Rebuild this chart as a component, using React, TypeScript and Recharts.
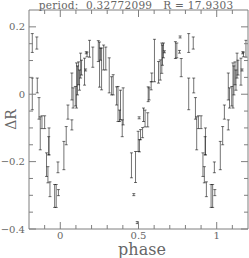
import React from "react";
import { ScatterChart, Scatter, XAxis, YAxis, ErrorBar } from "recharts";

// folded light curve (phase in [0,1), wrapped copies added below)
const phase = [
  0.023, 0.038, 0.049, 0.074, 0.074, 0.082, 0.096, 0.104, 0.11, 0.117, 0.123, 0.13,
  0.136, 0.155, 0.162, 0.166, 0.171, 0.187, 0.208, 0.243, 0.251, 0.257, 0.264, 0.277,
  0.291, 0.313, 0.328, 0.338, 0.36, 0.369, 0.379, 0.385, 0.396, 0.402, 0.455, 0.47,
  0.481, 0.492, 0.498, 0.504, 0.506, 0.513, 0.526, 0.532, 0.542, 0.559, 0.562, 0.568,
  0.581, 0.585, 0.602, 0.628, 0.639, 0.649, 0.653, 0.66, 0.666, 0.736, 0.745, 0.762,
  0.766, 0.773, 0.821, 0.821, 0.85, 0.853, 0.864, 0.872, 0.883, 0.9, 0.912, 0.921,
  0.926, 0.928, 0.934, 0.964, 0.974, 0.985, 0.988,
];
const deltaR = [
  -0.182, -0.123, -0.053, -0.091, 0.023, -0.011, -0.006, 0.026, 0.041, 0.062, 0.042, 0.085,
  0.079, 0.067, 0.072, 0.123, 0.118, 0.135, 0.11, 0.128, 0.088, 0.119, 0.075, 0.109,
  0.106, 0.056, 0.025, 0.028, -0.005, -0.029, -0.064, -0.032, -0.101, -0.036, -0.211, -0.298,
  -0.216, -0.381, -0.14, -0.07, -0.153, -0.12, -0.114, -0.061, -0.072, -0.076, 0.0, 0.001,
  0.025, 0.05, 0.1, 0.065, 0.072, 0.107, 0.116, 0.13, 0.126, 0.131, 0.13, 0.126,
  0.17, 0.079, 0.152, 0.001, 0.152, 0.026, -0.042, -0.116, -0.083, -0.083, -0.209, -0.239,
  -0.153, -0.14, -0.282, -0.302, -0.302, -0.217, -0.292,
];
const sigma = [
  0.042, 0.027, 0.021, 0.015, 0.04, 0.03, 0.029, 0.067, 0.043, 0.034, 0.03, 0.037,
  0.022, 0.04, 0.003, 0.003, 0.007, 0.025, 0.03, 0.031, 0.067, 0.018, 0.062, 0.037,
  0.034, 0.052, 0.027, 0.03, 0.027, 0.052, 0.017, 0.044, 0.025, 0.055, 0.037, 0.003,
  0.046, 0.003, 0.03, 0.003, 0.018, 0.015, 0.015, 0.02, 0.025, 0.021, 0.022, 0.018,
  0.012, 0.013, 0.063, 0.032, 0.03, 0.045, 0.03, 0.022, 0.003, 0.025, 0.022, 0.004,
  0.003, 0.027, 0.028, 0.047, 0.018, 0.022, 0.032, 0.049, 0.019, 0.019, 0.035, 0.024,
  0.027, 0.04, 0.022, 0.034, 0.034, 0.016, 0.009,
];

const xTicks = [-0.1, 0, 0.1, 0.2, 0.3, 0.4, 0.5, 0.6, 0.7, 0.8, 0.9, 1, 1.1];
const xLabelled = [0, 0.5, 1];
const yTicks = [-0.4, -0.35, -0.3, -0.25, -0.2, -0.15, -0.1, -0.05, 0, 0.05, 0.1, 0.15, 0.2];
const yLabelled = [-0.4, -0.2, 0, 0.2];

const title = "period:\u00a0\u00a00.32772099\u00a0\u00a0\u00a0R = 17.9303";

const AXIS = "#7f7f7f";
const TEXT = "#666";
const FONT = "'DejaVu Serif', serif";

// points outside [0,1) are plotted again one cycle over, as in the original
const points: { phase: number; dR: number; err: number }[] = [];
phase.forEach((p, i) => {
  const row = { dR: deltaR[i], err: sigma[i] };
  points.push({ phase: p, ...row });
  if (p < 0.2) points.push({ phase: p + 1, ...row });
  if (p >= 0.8) points.push({ phase: p - 1, ...row });
});

const isIn = (v: number, list: number[]) => list.some((t) => Math.abs(t - v) < 1e-6);
const fmt = (v: number) => (v < 0 ? `\u2212${Math.abs(v)}` : `${v}`);

const BottomTick = ({ x, y, payload }: any) => {
  const major = isIn(payload.value, xLabelled);
  return (
    <g>
      <line x1={x} x2={x} y1={y} y2={y - (major ? 7 : 4)} stroke={AXIS} />
      {major && (
        <text x={x} y={y + 10} textAnchor="middle" fontSize={10} fill={TEXT} fontFamily={FONT}>
          {fmt(payload.value)}
        </text>
      )}
    </g>
  );
};

const TopTick = ({ x, y, payload }: any) => (
  <line x1={x} x2={x} y1={y} y2={y + (isIn(payload.value, xLabelled) ? 7 : 4)} stroke={AXIS} />
);

const LeftTick = ({ x, y, payload }: any) => {
  const major = isIn(payload.value, yLabelled);
  return (
    <g>
      <line x1={x} x2={x + (major ? 7 : 4)} y1={y} y2={y} stroke={AXIS} />
      {major && (
        <text x={x - 4} y={y} dy="0.35em" textAnchor="end" fontSize={10} fill={TEXT} fontFamily={FONT}>
          {fmt(payload.value)}
        </text>
      )}
    </g>
  );
};

const RightTick = ({ x, y, payload }: any) => (
  <line x1={x} x2={x - (isIn(payload.value, yLabelled) ? 7 : 4)} y1={y} y2={y} stroke={AXIS} />
);

const Nothing = () => <g />;

const App = () => (
  <div style={{ position: "absolute", left: 0, top: 0, width: 249, height: 258, background: "#fff" }}>
    <ScatterChart width={249} height={258} margin={{ top: 9, right: 0, bottom: 0, left: 0 }}>
      <XAxis
        dataKey="phase"
        type="number"
        domain={[-0.2, 1.2]}
        allowDataOverflow
        ticks={xTicks}
        interval={0}
        height={29}
        tickSize={0}
        tickMargin={0}
        tickLine={false}
        axisLine={{ stroke: AXIS }}
        tick={<BottomTick />}
        label={{ value: "phase", position: "insideBottom", offset: 3, dx: 3.5, fontSize: 16, fill: TEXT, fontFamily: FONT }}
      />
      <XAxis
        xAxisId="top"
        dataKey="phase"
        orientation="top"
        type="number"
        domain={[-0.2, 1.2]}
        allowDataOverflow
        ticks={xTicks}
        interval={0}
        height={1}
        tickSize={0}
        tickMargin={0}
        tickLine={false}
        axisLine={{ stroke: AXIS }}
        tick={<TopTick />}
        label={{
          value: title,
          position: "top",
          offset: 0.5,
          dx: -2.5,
          fontSize: 10.5,
          letterSpacing: 0.3,
          fill: TEXT,
          fontFamily: FONT,
        }}
      />
      <YAxis
        dataKey="dR"
        type="number"
        domain={[-0.4, 0.25]}
        allowDataOverflow
        ticks={yTicks}
        interval={0}
        width={29}
        tickSize={0}
        tickMargin={0}
        tickLine={false}
        axisLine={{ stroke: AXIS }}
        tick={<LeftTick />}
        label={{ value: "\u0394R", angle: -90, position: "center", dx: -3.5, fontSize: 14, fill: TEXT, fontFamily: FONT }}
      />
      <YAxis
        yAxisId="right"
        dataKey="dR"
        orientation="right"
        type="number"
        domain={[-0.4, 0.25]}
        allowDataOverflow
        ticks={yTicks}
        interval={0}
        width={1}
        tickSize={0}
        tickMargin={0}
        tickLine={false}
        axisLine={{ stroke: AXIS }}
        tick={<RightTick />}
      />
      <Scatter data={points} dataKey="dR" shape={Nothing} isAnimationActive={false}>
        <ErrorBar
          dataKey="err"
          direction="y"
          width={1.5}
          stroke="#000"
          strokeOpacity={0.55}
          strokeWidth={1}
          isAnimationActive={false}
        />
      </Scatter>
      {/* keeps the mirror axes on top and right tied to the same data */}
      <Scatter
        data={points}
        dataKey="dR"
        xAxisId="top"
        yAxisId="right"
        shape={Nothing}
        isAnimationActive={false}
      />
    </ScatterChart>
  </div>
);

export default App;
